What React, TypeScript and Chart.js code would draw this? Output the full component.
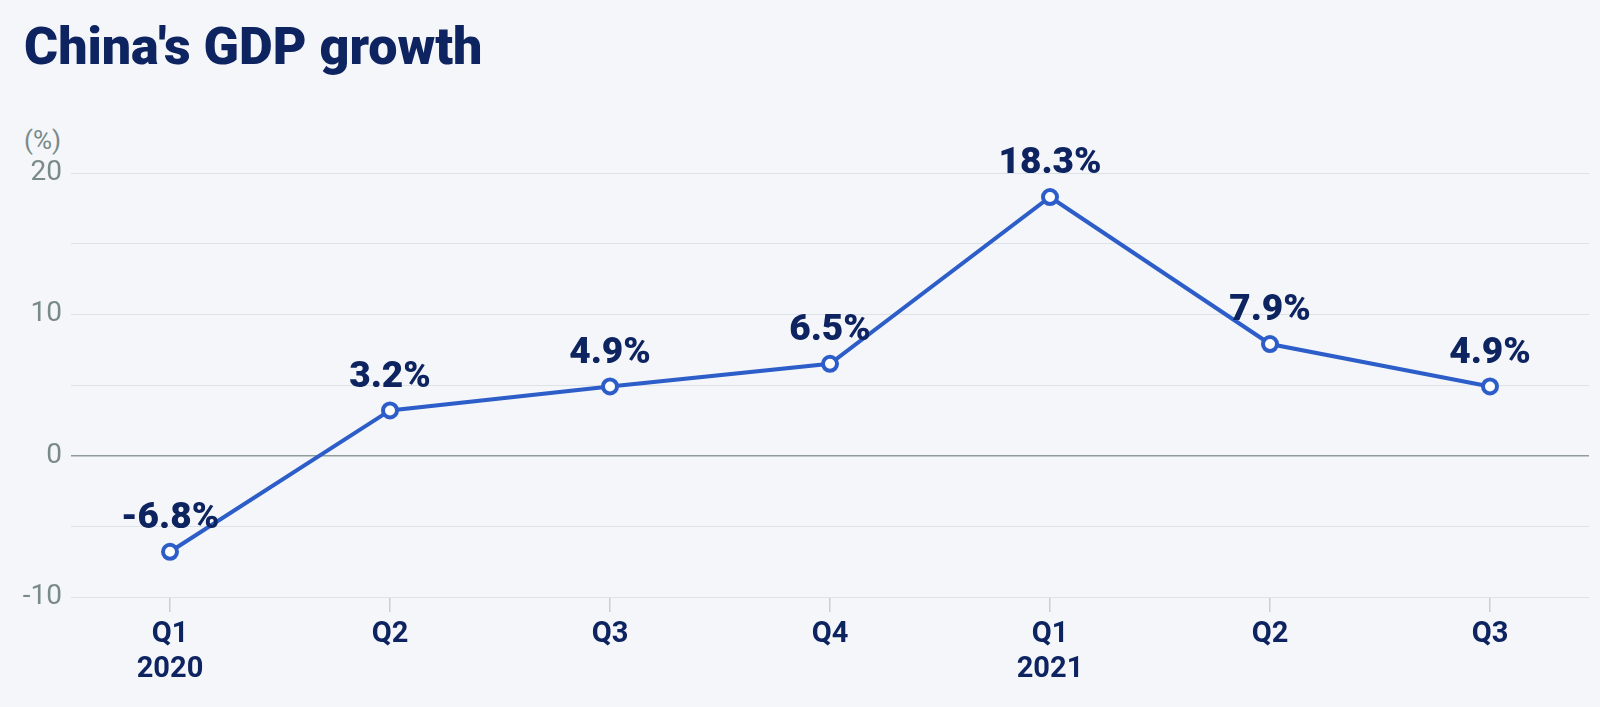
import React, { useEffect, useRef } from "react";
import { Chart, registerables } from "chart.js";

Chart.register(...registerables);

const quarters: string[][] = [["Q1", "2020"], ["Q2"], ["Q3"], ["Q4"], ["Q1", "2021"], ["Q2"], ["Q3"]];
const growth: number[] = [-6.8, 3.2, 4.9, 6.5, 18.3, 7.9, 4.9];
const growthLabels: string[] = ["-6.8%", "3.2%", "4.9%", "6.5%", "18.3%", "7.9%", "4.9%"];
const yTicks: number[] = [-10, -5, 0, 5, 10, 15, 20];

const NAVY = "#0d2460";
const BLUE = "#2c5dc8";
const BG = "#f4f6f9";

const valueLabels = {
  id: "valueLabels",
  afterDatasetsDraw(chart: any) {
    const ctx = chart.ctx;
    const meta = chart.getDatasetMeta(0);
    ctx.save();
    ctx.font = "900 37px Roboto";
    ctx.fillStyle = NAVY;
    ctx.textAlign = "center";
    ctx.textBaseline = "middle";
    meta.data.forEach((pt: any, i: number) => {
      ctx.fillText(growthLabels[i], pt.x, pt.y - 33);
    });
    ctx.restore();
  },
};

export default function App() {
  const ref = useRef<HTMLCanvasElement | null>(null);

  useEffect(() => {
    document.body.style.margin = "0";
    const chart = new Chart(ref.current as HTMLCanvasElement, {
      type: "line",
      data: {
        datasets: [
          {
            data: growth.map((v, i) => ({ x: i, y: v })),
            borderColor: BLUE,
            borderWidth: 4,
            pointRadius: 7,
            pointBorderWidth: 4,
            pointBackgroundColor: "#ffffff",
            pointBorderColor: BLUE,
            tension: 0,
          },
        ],
      },
      options: {
        animation: false,
        responsive: false,
        layout: { padding: { top: 173, right: 11, left: 0, bottom: 0 } },
        plugins: { legend: { display: false }, tooltip: { enabled: false } },
        scales: {
          x: {
            type: "linear",
            min: -0.45,
            max: 6.45,
            afterBuildTicks: (scale: any) => {
              scale.ticks = quarters.map((_, i) => ({ value: i }));
            },
            afterFit: (scale: any) => {
              scale.height = 110;
            },
            border: { display: false },
            grid: {
              drawOnChartArea: false,
              drawTicks: true,
              tickLength: 15,
              color: "#c9d0d4",
              lineWidth: 1.5,
            },
            ticks: {
              autoSkip: false,
              maxRotation: 0,
              padding: 6,
              color: NAVY,
              font: { family: "Roboto", size: 29, weight: "bold", lineHeight: 1.18 },
              callback: (v: any) => quarters[v as number] ?? "",
            },
          },
          y: {
            min: -10,
            max: 20,
            afterBuildTicks: (scale: any) => {
              scale.ticks = yTicks.map((v) => ({ value: v }));
            },
            afterFit: (scale: any) => {
              scale.width = 71;
            },
            border: { display: false },
            grid: {
              drawTicks: false,
              color: (c: any) => (c.tick && c.tick.value === 0 ? "#8e9c9c" : "#dde2e6"),
              lineWidth: (c: any) => (c.tick && c.tick.value === 0 ? 1.5 : 1),
            },
            ticks: {
              padding: 9,
              color: "#7a8a8a",
              font: { family: "Roboto", size: 28, weight: "normal" },
              callback: (v: any) => ((v as number) % 10 === 0 ? String(v) : ""),
            },
          },
        },
      },
      plugins: [valueLabels],
    } as any);
    return () => chart.destroy();
  }, []);

  return (
    <div style={{ position: "relative", width: 1600, height: 707, background: BG, overflow: "hidden" }}>
      <div
        style={{
          position: "absolute",
          left: 24,
          top: 17,
          fontFamily: "Roboto",
          fontWeight: 900,
          fontSize: 52,
          lineHeight: "60px",
          color: NAVY,
          whiteSpace: "nowrap",
        }}
      >
        China's GDP growth
      </div>
      <div
        style={{
          position: "absolute",
          left: 24,
          top: 124,
          fontFamily: "Roboto",
          fontWeight: 400,
          fontSize: 26,
          lineHeight: "32px",
          color: "#7a8a8a",
        }}
      >
        (%)
      </div>
      <canvas ref={ref} width={1600} height={707} style={{ position: "absolute", left: 0, top: 0 }} />
    </div>
  );
}
